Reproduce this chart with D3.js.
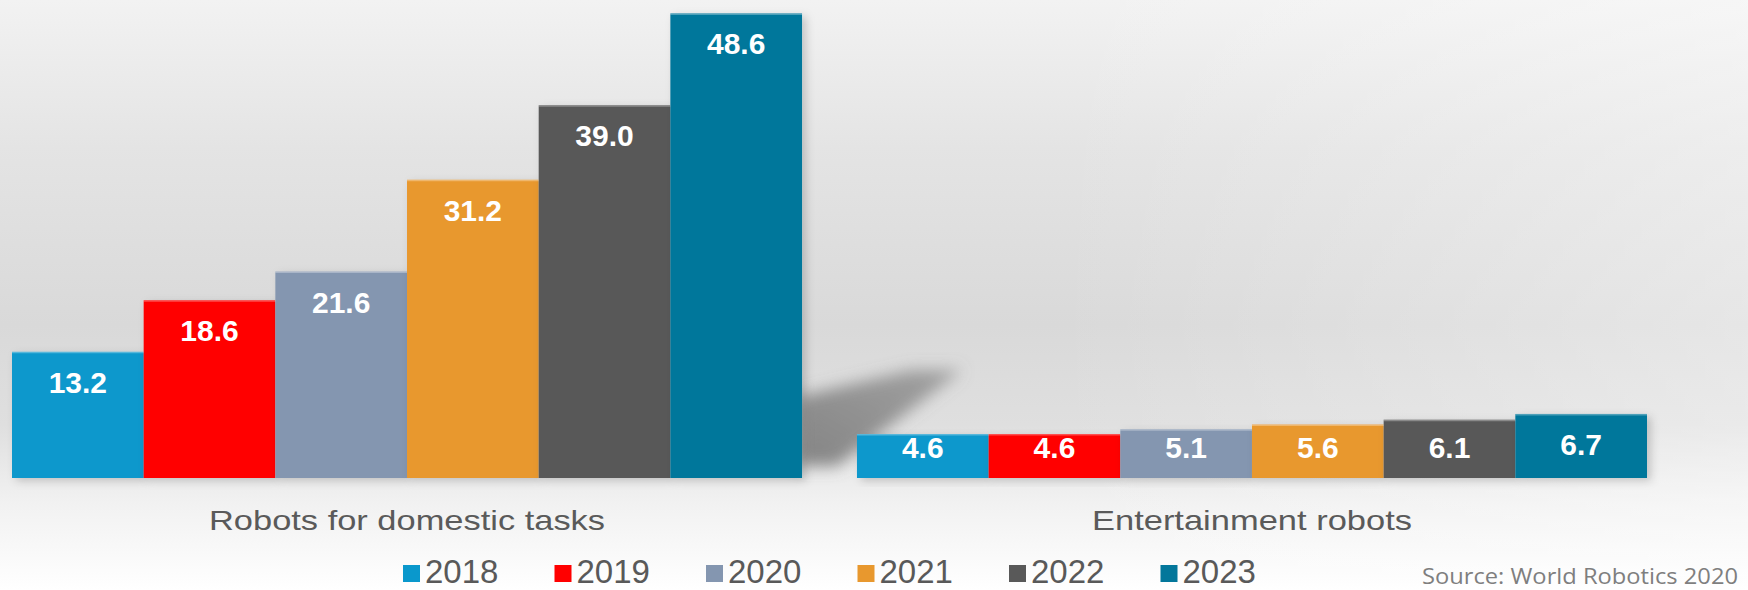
<!DOCTYPE html>
<html>
<head>
<meta charset="utf-8">
<script src="https://cdn.jsdelivr.net/npm/d3@7"></script>
<style>
  html, body { margin: 0; padding: 0; background: #fff; }
  svg { display: block; }
</style>
</head>
<body>
<svg id="chart" width="1748" height="590"></svg>
<script>
// ---- data ----
const years = ["2018", "2019", "2020", "2021", "2022", "2023"];
const categories = ["Robots for domestic tasks", "Entertainment robots"];
const domestic = [13.2, 18.6, 21.6, 31.2, 39.0, 48.6];
const entertainment = [4.6, 4.6, 5.1, 5.6, 6.1, 6.7];
const sourceText = "Source: World Robotics 2020";

// ---- styles ----
const colors = ["#0a98cc", "#ff0000", "#8496b0", "#e8982e", "#595959", "#03779b"];

const W = 1748, H = 590;
const svg = d3.select("#chart");
const defs = svg.append("defs");

// background gradient
const bg = defs.append("linearGradient").attr("id", "bg")
  .attr("x1", 0).attr("y1", 0).attr("x2", 0).attr("y2", 1);
[[0, "#f2f2f2"], [0.25, "#e4e4e4"], [0.55, "#d9d9d9"], [0.72, "#dfdfdf"], [0.85, "#f1f1f1"], [1, "#ffffff"]]
  .forEach(([o, c]) => bg.append("stop").attr("offset", o).attr("stop-color", c));
svg.append("rect").attr("width", W).attr("height", H).attr("fill", "url(#bg)");

// right-side light gradient overlay
const bgr = defs.append("linearGradient").attr("id", "bgr")
  .attr("x1", 0).attr("y1", 0).attr("x2", 1).attr("y2", 0);
bgr.append("stop").attr("offset", 0).attr("stop-color", "#fff").attr("stop-opacity", 0);
bgr.append("stop").attr("offset", 0.6).attr("stop-color", "#fff").attr("stop-opacity", 0);
bgr.append("stop").attr("offset", 1).attr("stop-color", "#fff").attr("stop-opacity", 0.35);
svg.append("rect").attr("width", W).attr("height", H).attr("fill", "url(#bgr)");

const blur = defs.append("filter").attr("id", "blur")
  .attr("x", "-50%").attr("y", "-50%").attr("width", "200%").attr("height", "200%");
blur.append("feGaussianBlur").attr("stdDeviation", 8);

const ds = defs.append("filter").attr("id", "ds")
  .attr("x", "-10%").attr("y", "-10%").attr("width", "130%").attr("height", "130%");
ds.append("feDropShadow").attr("dx", 4).attr("dy", 3).attr("stdDeviation", 4)
  .attr("flood-color", "#000").attr("flood-opacity", 0.18);

// ---- scales ----
const x0 = d3.scaleBand().domain(categories).range([12, 1647]).paddingInner(0.065).paddingOuter(0);
const x1 = d3.scaleBand().domain(years).range([0, x0.bandwidth()]).padding(0);
const y = d3.scaleLinear().domain([0, 50]).range([478, 0]);

const seriesByCat = { [categories[0]]: domestic, [categories[1]]: entertainment };
const rows = [];
categories.forEach(c => years.forEach((yr, i) => rows.push({ cat: c, year: yr, i, v: seriesByCat[c][i] })));

// decorative cast shadow behind the tallest bar
const sx = x0(categories[0]) + x0.bandwidth();
const sb = y(0);
const shGrad = defs.append("linearGradient").attr("id", "shg")
  .attr("x1", 0).attr("y1", 1).attr("x2", 1).attr("y2", 0);
shGrad.append("stop").attr("offset", 0).attr("stop-color", "#6a6a6a").attr("stop-opacity", 0.8);
shGrad.append("stop").attr("offset", 1).attr("stop-color", "#7a7a7a").attr("stop-opacity", 0.6);
svg.append("path")
  .attr("d", d3.line()([[sx - 4, sb - 12], [sx - 4, y(8.5)], [sx + 110, y(11.3)], [sx + 160, y(11.3)], [sx + 35, sb - 12]]))
  .attr("fill", "url(#shg)")
  .attr("filter", "url(#blur)");

// ---- bars ----
const g = svg.append("g");
g.selectAll("rect.bar").data(rows).join("rect")
  .attr("class", "bar")
  .attr("x", d => x0(d.cat) + x1(d.year))
  .attr("y", d => y(d.v))
  .attr("width", x1.bandwidth())
  .attr("height", d => y(0) - y(d.v))
  .attr("fill", d => colors[d.i])
  .attr("filter", "url(#ds)");

// top highlight
g.selectAll("line.hl").data(rows).join("line")
  .attr("class", "hl")
  .attr("x1", d => x0(d.cat) + x1(d.year))
  .attr("x2", d => x0(d.cat) + x1(d.year) + x1.bandwidth())
  .attr("y1", d => y(d.v) + 0.75)
  .attr("y2", d => y(d.v) + 0.75)
  .attr("stroke", "#fff").attr("stroke-opacity", 0.3).attr("stroke-width", 1.5);

// value labels
const fmt = d3.format(".1f");
g.selectAll("text.val").data(rows).join("text")
  .attr("class", "val")
  .attr("x", d => x0(d.cat) + x1(d.year) + x1.bandwidth() / 2)
  .attr("y", d => Math.min(y(d.v) + 41, y(0) - 20))
  .attr("text-anchor", "middle")
  .attr("font-family", "'Liberation Sans', Arial, sans-serif")
  .attr("font-weight", "bold")
  .attr("font-size", 30)
  .attr("fill", "#ffffff")
  .text(d => fmt(d.v));

// category labels
svg.selectAll("text.cat").data(categories).join("text")
  .attr("class", "cat")
  .attr("x", d => x0(d) + x0.bandwidth() / 2)
  .attr("y", 530)
  .attr("text-anchor", "middle")
  .attr("font-family", "'Liberation Sans', Arial, sans-serif")
  .attr("font-size", 28)
  .attr("fill", "#5a5a5a")
  .attr("textLength", (d, i) => i === 0 ? 396 : 320)
  .attr("lengthAdjust", "spacingAndGlyphs")
  .text(d => d);

// legend
const legend = svg.append("g");
const lx = d3.scalePoint().domain(years).range([403, 403 + 151.5 * 5]);
const items = legend.selectAll("g").data(years).join("g")
  .attr("transform", d => `translate(${lx(d)},0)`);
items.append("rect").attr("x", 0).attr("y", 565).attr("width", 17).attr("height", 17)
  .attr("fill", (d, i) => colors[i]);
items.append("text").attr("x", 22).attr("y", 583)
  .attr("font-family", "'Liberation Sans', Arial, sans-serif")
  .attr("font-size", 33)
  .attr("fill", "#595959")
  .text(d => d);

// source
svg.append("text")
  .attr("x", 1422).attr("y", 584)
  .attr("font-family", "'Open Sans', 'Noto Sans', sans-serif")
  .attr("font-size", 21)
  .attr("fill", "#7f7f7f")
  .attr("textLength", 316)
  .attr("lengthAdjust", "spacingAndGlyphs")
  .text(sourceText);
</script>
</body>
</html>
